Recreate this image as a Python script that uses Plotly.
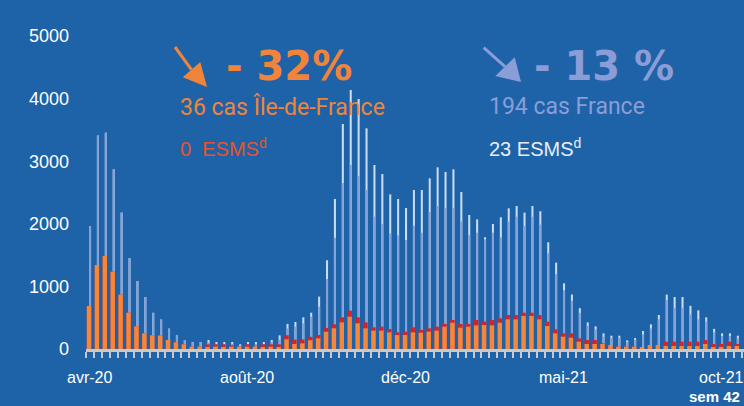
import plotly.graph_objects as go

# ---- data ----
semaines = [f"2020-S{w:02d}" for w in range(13, 54)] + [f"2021-S{w:02d}" for w in range(1, 43)]

france_total = [1965, 3410, 3455, 2870, 2178, 1450, 1086, 831, 578, 470,
                325, 218, 144, 110, 110, 144, 112, 112, 112, 75,
                112, 112, 112, 144, 218, 400, 431, 506, 580, 836,
                1417, 2396, 3594, 4137, 3994, 3525, 2939, 2796, 2470, 2396,
                2252, 2540, 2540, 2726, 2902, 2827, 2870, 2508, 2141, 2071,
                1784, 1997, 2104, 2247, 2284, 2178, 2284, 2200, 1705, 1379,
                1049, 870, 652, 425, 362, 250, 212, 212, 138, 175,
                288, 394, 543, 868, 830, 830, 690, 618, 506, 322,
                250, 250, 212]
france_part = [1965, 3410, 3455, 2870, 2178, 1450, 1086, 831, 578, 470,
               325, 218, 144, 110, 110, 100, 80, 80, 80, 55,
               80, 80, 80, 110, 150, 330, 357, 410, 516, 676,
               1118, 1778, 2652, 2939, 2764, 2540, 2114, 1997, 1848, 1816,
               1741, 1970, 1858, 2188, 2284, 2252, 2252, 2034, 1821, 1858,
               1752, 1858, 1784, 2034, 2114, 1965, 2114, 1990, 1528, 1198,
               942, 772, 580, 367, 314, 197, 180, 180, 110, 150,
               234, 330, 474, 783, 660, 660, 554, 474, 437, 266,
               208, 208, 170]
idf_total = [687, 1342, 1486, 1235, 868, 580, 362, 250, 218, 215,
             144, 107, 75, 37, 37, 75, 75, 75, 60, 37,
             75, 37, 75, 75, 75, 220, 150, 150, 195, 224,
             335, 394, 506, 612, 506, 426, 346, 357, 320, 266,
             277, 346, 304, 330, 357, 400, 463, 400, 400, 463,
             437, 463, 490, 543, 543, 580, 580, 543, 437, 314,
             250, 250, 170, 144, 144, 90, 64, 37, 37, 37,
             27, 64, 64, 117, 117, 117, 117, 117, 144, 80,
             80, 117, 80]
idf_part = [687, 1342, 1486, 1235, 868, 580, 362, 250, 218, 215,
            144, 107, 75, 37, 37, 20, 37, 25, 37, 37,
            37, 37, 25, 37, 25, 155, 80, 90, 140, 170,
            275, 330, 426, 516, 410, 330, 293, 293, 266, 224,
            224, 266, 261, 277, 293, 357, 420, 341, 357, 378,
            383, 378, 420, 474, 474, 527, 527, 474, 367, 250,
            197, 181, 117, 80, 80, 80, 64, 37, 37, 37,
            27, 64, 64, 48, 48, 48, 48, 48, 80, 27,
            27, 48, 48]

month_labels = ["avr-20", "août-20", "déc-20", "mai-21", "oct-21"]
month_index = [0, 20, 40, 60, 80]
y_ticks = [0, 1000, 2000, 3000, 4000, 5000]

# ---- styling ----
BG = "#1E63A7"
W, H = 744, 406
L, R, T, B = 86, 0, 36, 57
PW, PH = W - L - R, H - T - B

def px(x):
    return (x - L) / PW

def py(y):
    return (H - B - y) / PH

x = list(range(len(semaines)))

fig = go.Figure()
fig.add_trace(go.Bar(x=x, y=france_total, width=0.26, offset=0.0,
                     marker=dict(color="#C9DCF2", line=dict(width=0)), name="France"))
fig.add_trace(go.Bar(x=x, y=france_part, width=0.26, offset=0.0,
                     marker=dict(color="#83A1D8", line=dict(width=0)), name="France (part)"))
fig.add_trace(go.Bar(x=x, y=idf_total, width=0.56, offset=-0.28,
                     marker=dict(color="#D3232B", line=dict(width=0)), name="Île-de-France"))
fig.add_trace(go.Bar(x=x, y=idf_part, width=0.56, offset=-0.28,
                     marker=dict(color="#F4873A", line=dict(width=0)), name="Île-de-France (part)"))

xr = [-0.38, len(semaines) - 1 + 0.91]

fig.update_layout(
    width=W, height=H,
    margin=dict(l=L, r=R, t=T, b=B),
    paper_bgcolor=BG, plot_bgcolor=BG,
    barmode="overlay", showlegend=False,
    font=dict(family="Liberation Sans, Arial, sans-serif", color="white"),
    xaxis=dict(range=xr, showgrid=False, zeroline=False,
               tickmode="array", tickvals=[i - 0.32 for i in range(len(semaines) + 1)],
               ticks="outside", ticklen=6, tickwidth=2, tickcolor="#C9C9C9",
               showticklabels=False, showline=True, linewidth=3, linecolor="#C9C9C9"),
    yaxis=dict(range=[0, 5000], showgrid=False, zeroline=False, showline=False,
               tickmode="array", tickvals=y_ticks, ticktext=[str(v) for v in y_ticks],
               ticks="", ticklabelstandoff=16,
               tickfont=dict(size=18, color="white")),
)

ann = []
for i, lab in zip(month_index, month_labels):
    ann.append(dict(x=i, y=py(377), xref="x", yref="paper", text=lab, showarrow=False,
                    xanchor="center", yanchor="middle", font=dict(size=16, color="white")))

big = "DejaVu Sans, Liberation Sans, Arial"
narrow = "Roboto, Liberation Sans, sans-serif"
ORANGE = "#F0843A"
LAV = "#8A9DD7"
ann += [
    dict(x=px(224), y=py(66), text="<b>- 32%</b>", font=dict(family=big, size=40, color=ORANGE)),
    dict(x=px(178), y=py(107), text="36 cas Île-de-France", font=dict(family=narrow, size=23, color=ORANGE)),
    dict(x=px(178), y=py(147), text="0\u00a0 ESMS<sup>d</sup>", font=dict(size=20, color="#E8522B")),
    dict(x=px(532), y=py(66), text="<b>- 13 %</b>", font=dict(family=big, size=40, color=LAV)),
    dict(x=px(487), y=py(107), text="194 cas France", font=dict(family=narrow, size=23, color=LAV)),
    dict(x=px(487), y=py(147), text="23 ESMS<sup>d</sup>", font=dict(size=20, color="#E8EEF8")),
]
for a in ann[len(month_index):]:
    a.update(xref="paper", yref="paper", showarrow=False, xanchor="left", yanchor="middle")
ann.append(dict(x=px(742), y=py(396), xref="paper", yref="paper", text="<b>sem 42</b>",
                showarrow=False, xanchor="right", yanchor="middle",
                font=dict(size=15, color="white")))
fig.update_layout(annotations=ann)

def arrow(tail, tip, c1, c2, color):
    bx = (c1[0] + c2[0]) / 2
    by = (c1[1] + c2[1]) / 2
    fig.add_shape(type="line", xref="paper", yref="paper",
                  x0=px(tail[0]), y0=py(tail[1]), x1=px(bx), y1=py(by),
                  line=dict(color=color, width=3))
    path = "M {} {} L {} {} L {} {} Z".format(px(tip[0]), py(tip[1]), px(c1[0]), py(c1[1]),
                                             px(c2[0]), py(c2[1]))
    fig.add_shape(type="path", xref="paper", yref="paper", path=path,
                  fillcolor=color, line=dict(color=color, width=0))

arrow((175, 47), (207, 87), (182.7, 77.3), (200.3, 62), ORANGE)
arrow((483.7, 47.7), (521, 82), (495.3, 76), (514.7, 57.3), LAV)

fig.write_html("out.html", config={"displayModeBar": False},
               post_script="document.body.style.margin='0';document.body.style.padding='0';"
                           "document.body.style.overflow='hidden';")
